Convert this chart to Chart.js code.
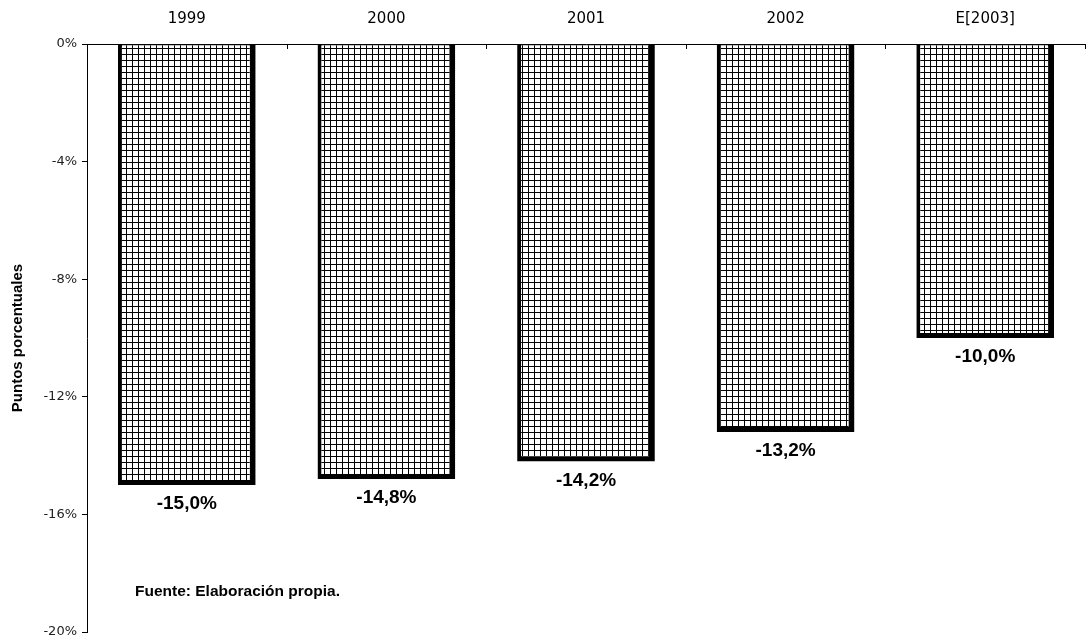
<!DOCTYPE html>
<html>
<head>
<meta charset="utf-8">
<script src="https://cdn.jsdelivr.net/npm/chart.js@4/dist/chart.umd.min.js"></script>
<style>
  body { margin: 0; background: #fff; }
  #wrap { position: relative; width: 1088px; height: 639px; }
  #fuente { position: absolute; left: 135px; top: 582px; font: bold 15.5px "Liberation Sans", Arial, sans-serif; color: #000; }
</style>
</head>
<body>
<div id="wrap">
  <canvas id="grafica" width="1088" height="639"></canvas>
  <div id="fuente">Fuente: Elaboración propia.</div>
</div>
<script>
// datos
var anios = ['1999', '2000', '2001', '2002', 'E[2003]'];
var puntos = [-15.0, -14.8, -14.2, -13.2, -10.0];

// trama cuadriculada de las barras
function trama() {
    var c = document.createElement('canvas');
    c.width = 6; c.height = 6;
    var g = c.getContext('2d');
    g.fillStyle = '#fff';
    g.fillRect(0, 0, 6, 6);
    g.fillStyle = '#000';
    g.fillRect(0, 0, 6, 1);
    g.fillRect(0, 0, 1, 6);
    return g.createPattern(c, 'repeat');
}

// etiquetas bajo cada barra y marcas del eje x
var etiquetas = {
    id: 'etiquetas',
    afterDatasetsDraw: function (chart) {
        var ctx = chart.ctx;
        var meta = chart.getDatasetMeta(0);
        ctx.save();
        ctx.font = 'bold 19px "Liberation Sans", Arial, sans-serif';
        ctx.fillStyle = '#000';
        ctx.textAlign = 'center';
        ctx.textBaseline = 'middle';
        meta.data.forEach(function (bar, i) {
            var txt = puntos[i].toFixed(1).replace('.', ',') + '%';
            ctx.fillText(txt, bar.x, bar.y + 19);
        });
        ctx.restore();
    },
    afterDraw: function (chart) {
        var x = chart.scales.x;
        var ctx = chart.ctx;
        var n = anios.length;
        var w = (x.right - x.left) / n;
        ctx.save();
        ctx.strokeStyle = '#000';
        ctx.lineWidth = 1;
        for (var i = 0; i <= n; i++) {
            var px = Math.round(x.left + i * w) + 0.5;
            ctx.beginPath();
            ctx.moveTo(px, chart.chartArea.top);
            ctx.lineTo(px, chart.chartArea.top + 5);
            ctx.stroke();
        }
        ctx.restore();
    }
};

new Chart(document.getElementById('grafica'), {
    type: 'bar',
    data: {
        labels: anios,
        datasets: [{
            data: puntos,
            backgroundColor: trama(),
            borderColor: '#000',
            borderWidth: { top: 1, left: 4, right: 6, bottom: 5 },
            borderSkipped: false,
            categoryPercentage: 1,
            barPercentage: 0.69
        }]
    },
    options: {
        responsive: false,
        animation: false,
        devicePixelRatio: 1,
        layout: { padding: { top: 0, right: 3, bottom: 7, left: 0 } },
        plugins: {
            legend: { display: false },
            tooltip: { enabled: false }
        },
        scales: {
            x: {
                position: 'top',
                grid: { display: false, drawTicks: false },
                border: { display: true, color: '#000', width: 1 },
                ticks: {
                    color: '#000',
                    padding: 16,
                    font: { family: '"DejaVu Sans", Verdana, sans-serif', size: 15 }
                },
                afterFit: function (s) { s.height = 44; }
            },
            y: {
                min: -20,
                max: 0,
                grid: { drawOnChartArea: false, drawTicks: true, tickLength: 5, color: '#000' },
                border: { display: true, color: '#000', width: 1 },
                ticks: {
                    stepSize: 4,
                    color: '#222',
                    padding: 5,
                    font: { family: '"DejaVu Sans", Verdana, sans-serif', size: 13 },
                    callback: function (v) { return v + '%'; }
                },
                title: {
                    display: true,
                    text: 'Puntos porcentuales',
                    color: '#000',
                    padding: { top: 9, bottom: 0 },
                    font: { family: '"Liberation Sans", Arial, sans-serif', size: 15, weight: 'bold' }
                },
                afterFit: function (s) {
                    s.width = 87;
                    s.paddingTop = 0;
                    s.paddingBottom = 0;
                }
            }
        }
    },
    plugins: [etiquetas]
});
</script>
</body>
</html>
